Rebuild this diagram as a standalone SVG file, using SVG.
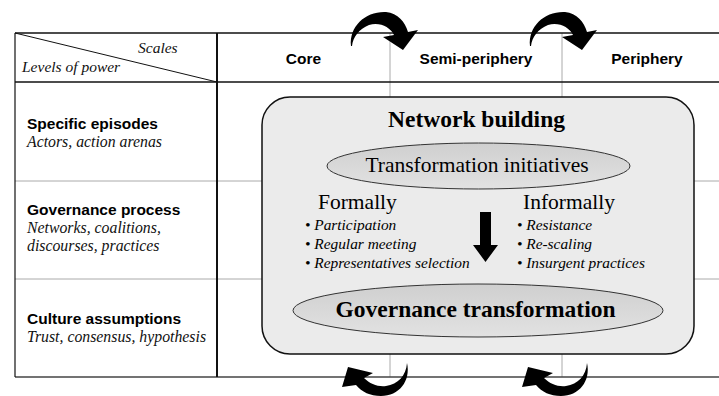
<svg xmlns="http://www.w3.org/2000/svg" width="719" height="396" viewBox="0 0 719 396">
<style>
.sansb{font-family:"Liberation Sans",Arial,sans-serif;font-weight:bold;font-size:15.5px;fill:#000}
.seri{font-family:"Liberation Serif","Times New Roman",serif;font-style:italic;font-size:15.8px;fill:#111}
.hdr{font-family:"Liberation Serif","Times New Roman",serif;font-style:italic;font-size:15.5px;fill:#111}
.big{font-family:"Liberation Serif","Times New Roman",serif;font-weight:bold;font-size:23.5px;fill:#000}
.mid{font-family:"Liberation Serif","Times New Roman",serif;font-size:21.5px;fill:#000}
.bul{font-family:"Liberation Serif","Times New Roman",serif;font-style:italic;font-size:15.4px;fill:#000}
.thin{stroke:#aaa;stroke-width:1;fill:none}
.thick{stroke:#111;fill:none}
.arr{fill:#000;stroke:none}
</style>
<defs>
<linearGradient id="eg" x1="0" y1="0" x2="0" y2="1">
<stop offset="0" stop-color="#cfcfcf"/>
<stop offset="1" stop-color="#e2e2e2"/>
</linearGradient>
</defs>
<rect width="719" height="396" fill="#fff"/>
<g id="table">
<line class="thin" x1="15" y1="181" x2="719" y2="181"/>
<line class="thin" x1="15" y1="279" x2="719" y2="279"/>
<line class="thin" x1="390" y1="33" x2="390" y2="377"/>
<line class="thin" x1="562" y1="33" x2="562" y2="377"/>
<line class="thick" stroke-width="1.5" x1="15" y1="33" x2="719" y2="33"/>
<line class="thick" stroke-width="1.5" x1="15" y1="82" x2="719" y2="82"/>
<line stroke="#444" stroke-width="1.5" x1="15" y1="377" x2="719" y2="377"/>
<line class="thick" stroke-width="1.2" x1="15" y1="33" x2="15" y2="377"/>
<line class="thick" stroke-width="2" x1="217" y1="33" x2="217" y2="377"/>
<line class="thick" stroke-width="1" x1="15" y1="33" x2="217" y2="82"/>
</g>
<g id="header">
<text class="hdr" x="138" y="53">Scales</text>
<text class="hdr" x="22" y="72">Levels of power</text>
<text class="sansb" x="303.5" y="64" text-anchor="middle">Core</text>
<text class="sansb" x="476" y="64" text-anchor="middle" font-size="16.2">Semi-periphery</text>
<text class="sansb" x="647" y="64" text-anchor="middle" font-size="16">Periphery</text>
</g>
<g id="row-specific">
<text class="sansb" x="27" y="129">Specific episodes</text>
<text class="seri" x="27" y="147">Actors, action arenas</text>
</g>
<g id="row-governance">
<text class="sansb" x="27" y="215">Governance process</text>
<text class="seri" x="27" y="233">Networks, coalitions,</text>
<text class="seri" x="27" y="251">discourses, practices</text>
</g>
<g id="row-culture">
<text class="sansb" x="27" y="324">Culture assumptions</text>
<text class="seri" x="27" y="342">Trust, consensus, hypothesis</text>
</g>
<g id="network-building">
<rect x="262" y="97" width="432" height="257" rx="28" ry="28" fill="#ebebeb" stroke="#111" stroke-width="1.5"/>
<text class="big" x="476.5" y="127" text-anchor="middle">Network building</text>
</g>
<g id="transformation-initiatives">
<ellipse cx="478.5" cy="166" rx="151.5" ry="23" fill="url(#eg)" stroke="#333" stroke-width="1"/>
<text class="mid" x="477" y="172" text-anchor="middle">Transformation initiatives</text>
</g>
<g id="formally">
<text class="mid" x="318" y="209">Formally</text>
<text class="bul" x="305" y="230">• Participation</text>
<text class="bul" x="305" y="249">• Regular meeting</text>
<text class="bul" x="305" y="268">• Representatives selection</text>
</g>
<g id="informally">
<text class="mid" x="523" y="209">Informally</text>
<text class="bul" x="517" y="230">• Resistance</text>
<text class="bul" x="517" y="249">• Re-scaling</text>
<text class="bul" x="517" y="268">• Insurgent practices</text>
</g>
<g id="governance-transformation">
<ellipse cx="478" cy="310.5" rx="185" ry="26.5" fill="url(#eg)" stroke="#333" stroke-width="1"/>
<text class="big" x="475.5" y="317" text-anchor="middle">Governance transformation</text>
</g>
<g id="connectors">
<polygon class="arr" points="480,212 491,212 491,245 498,245 485.5,262 473,245 480,245"/>
<path id="topArrow" class="arr" d="M351,46 C349,26 366,11 386,12 C398,13 405,22 408,32 L418,30 L403,50 L383,37 L394,35 C390,27 380,22 369,25 C359,29 353,37 352,46 Z"/>
<use href="#topArrow" transform="translate(179,0)"/>
<path id="botArrow" class="arr" d="M407,363 C411,381 399,396 381,396 C370,396 362,392 356,385 L342,387 L348,367 L373,373 L364,378 C370,384 378,387 386,386 C398,384 406,376 407,363 Z"/>
<use href="#botArrow" transform="translate(180,0)"/>
</g>
</svg>
